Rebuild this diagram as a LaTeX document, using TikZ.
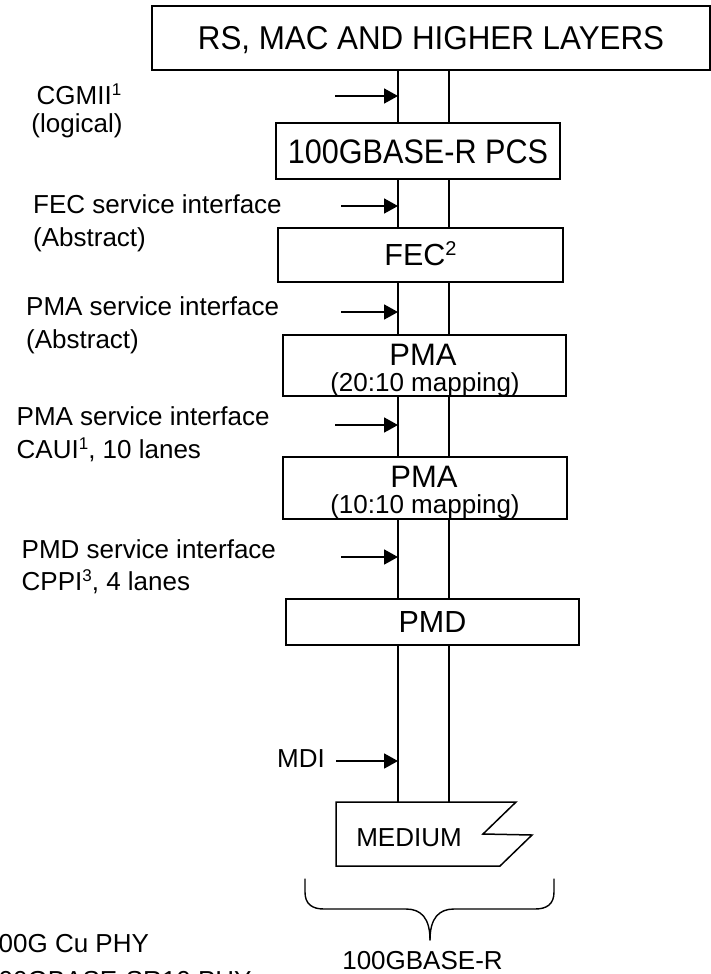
\documentclass[tikz,border=0pt]{standalone}
\usepackage{fontspec}
\setmainfont{Liberation Sans}
\newfontfamily\tallfont[FakeStretch=0.9]{Liberation Sans}
\newfontfamily\tallishfont[FakeStretch=0.95]{Liberation Sans}
\usetikzlibrary{arrows.meta}
\newcommand\lblfont{\fontsize{26}{32}\selectfont}
\newcommand\boxfont{\fontsize{30.5}{36}\selectfont}
\newcommand\topfont{\tallishfont\fontsize{33}{38}\selectfont}
\newcommand\pcsfont{\tallfont\fontsize{34}{40}\selectfont}
\newcommand\supl[1]{\raisebox{8.5pt}{\fontsize{17}{17}\selectfont #1}}
\newcommand\supb[1]{\raisebox{10pt}{\fontsize{20}{20}\selectfont #1}}
\begin{document}
\begin{tikzpicture}[x=1pt,y=-1pt,
  box/.style={draw, line width=1.6pt, fill=white, rectangle, inner sep=0pt},
  onetext/.style={font=\boxfont, text height=21.8pt, text depth=0pt},
  lbl/.style={font=\lblfont, inner sep=0pt, anchor=base west},
  ctr/.style={font=\lblfont, inner sep=0pt, anchor=base},
  lane/.style={line width=1.3pt},
  arr/.style={line width=1.8pt, -{Triangle[length=14pt,width=15pt]}},
  bracestyle/.style={line width=1.4pt, line cap=round, line join=round},
]
\useasboundingbox (0,0) rectangle (711,974);
\fill[white] (0,0) rectangle (711,974);
\clip (0,0) rectangle (711,974);

\coordinate (L) at (398,0);
\coordinate (R) at (449,0);

% boxes
\node[box, minimum width=558pt, minimum height=64pt, font=\topfont, text height=23.6pt, text depth=0pt] (top) at (431,38) {RS, MAC AND HIGHER LAYERS};
\node[box, minimum width=284pt, minimum height=56pt, font=\pcsfont, text height=24.3pt, text depth=0pt] (pcs) at (418,151) {100GBASE-R PCS};
\node[box, onetext, minimum width=285pt, minimum height=54pt] (fec) at (420.5,255) {FEC\supb{2}};
\node[box, minimum width=283pt, minimum height=61pt] (pma1) at (424.5,365.5) {};
\node[box, minimum width=284pt, minimum height=62pt] (pma2) at (425,488) {};
\node[box, onetext, minimum width=293pt, minimum height=46pt] (pmd) at (432.5,622) {PMD};

\node[inner sep=0pt, anchor=base, font=\fontsize{31}{36}\selectfont] (pma1a) at (423,365) {PMA};
\node[ctr] (pma1b) at (425,391) {(20:10 mapping)};
\node[inner sep=0pt, anchor=base, font=\fontsize{31}{36}\selectfont] (pma2a) at (424,487) {PMA};
\node[ctr] (pma2b) at (425,513) {(10:10 mapping)};

% medium
\draw[line width=1.5pt, fill=white, line join=miter] (336,802) -- (516,802) -- (483,834) -- (532,835) -- (500,866) -- (336,866) -- cycle;
\node[ctr] (medium) at (409,846) {MEDIUM};
\coordinate (medtop) at (420,802);

% lanes
\foreach \a/\b in {top/pcs, pcs/fec, fec/pma1, pma1/pma2, pma2/pmd} {
  \draw[lane] (\a.south -| L) -- (\b.north -| L);
  \draw[lane] (\a.south -| R) -- (\b.north -| R);
}
\draw[lane] (pmd.south -| L) -- (medtop -| L);
\draw[lane] (pmd.south -| R) -- (medtop -| R);

% interface labels
\node[ctr] (cgmii) at (79,104) {CGMII\supl{1}};
\node[ctr] (cgmiib) at (77,132) {(logical)};
\node[lbl] (fecsi) at (33,213) {FEC service interface};
\node[lbl] (fecsib) at (33,246) {(Abstract)};
\node[lbl] (pmasi) at (26,315) {PMA service interface};
\node[lbl] (pmasib) at (26,348) {(Abstract)};
\node[lbl] (cauisi) at (16.5,425) {PMA service interface};
\node[lbl] (cauisib) at (16.5,458) {CAUI\supl{1}, 10 lanes};
\node[lbl] (pmdsi) at (21.5,558) {PMD service interface};
\node[lbl] (pmdsib) at (21.5,590) {CPPI\supl{3}, 4 lanes};
\node[lbl] (mdi) at (277,767) {MDI};

% arrows
\coordinate (a1) at (335,96);
\coordinate (a2) at (341,206);
\coordinate (a3) at (341,312);
\coordinate (a4) at (335,425);
\coordinate (a5) at (341,557);
\coordinate (a6) at (336,761);
\foreach \c in {a1,a2,a3,a4,a5,a6} {
  \draw[arr] (\c) -- (\c -| L);
}

% brace
\coordinate (btip) at (430,940);
\draw[bracestyle] (305,879) -- (305,892) .. controls (305,904) and (312,909) .. (324,909) -- (406,909) .. controls (421,909) and (430,918) .. (btip);
\draw[bracestyle] (554,879) -- (554,892) .. controls (554,904) and (547,909) .. (535,909) -- (454,909) .. controls (439,909) and (430,918) .. (btip);
\node[ctr] (rbase) at (422.5,969) {100GBASE-R};

% bottom left texts
\node[lbl] (cu) at (-1.5,952) {00G Cu PHY};
\node[lbl] (sr) at (-1.5,989) {00GBASE-SR10 PHY};
\end{tikzpicture}
\end{document}
